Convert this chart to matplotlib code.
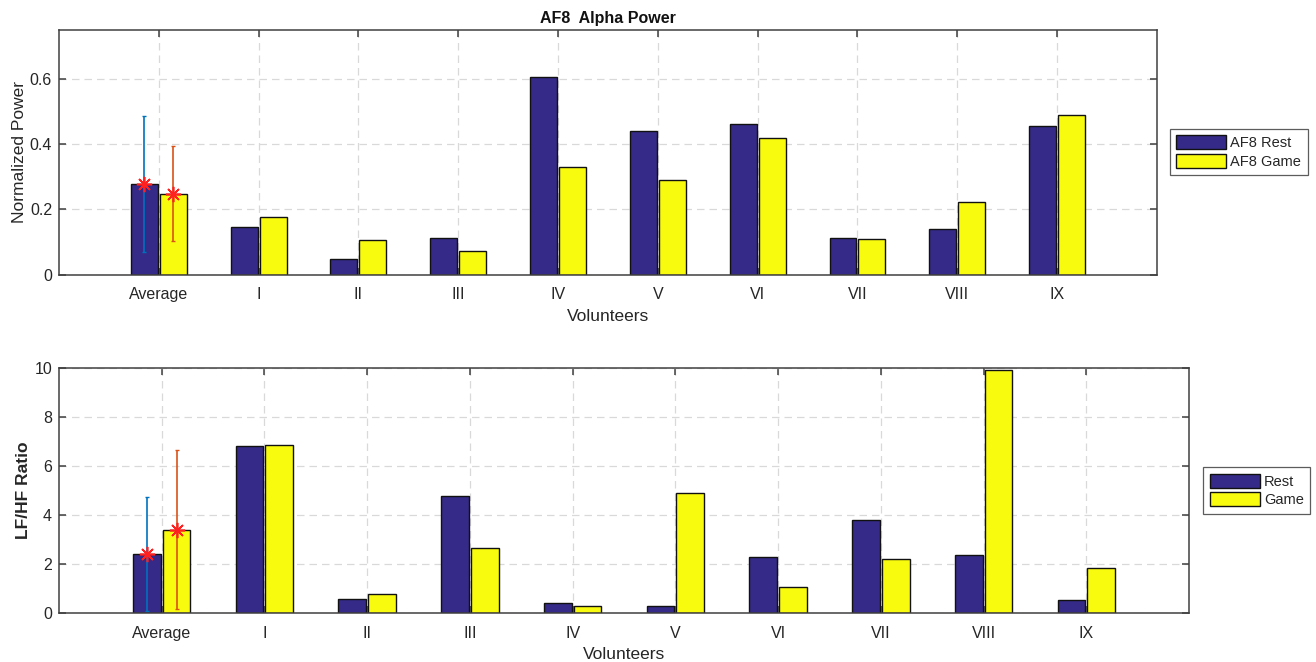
import matplotlib
matplotlib.use("Agg")
import matplotlib.pyplot as plt
import numpy as np

plt.rcParams['font.family'] = ['Liberation Sans', 'DejaVu Sans']

# Volunteer labels (first group is the average over all volunteers)
labels = ["Average", "I", "II", "III", "IV", "V", "VI", "VII", "VIII", "IX"]

# AF8 alpha power (normalized)
alpha_rest = [0.278, 0.146, 0.047, 0.113, 0.605, 0.441, 0.462, 0.113, 0.139, 0.456]
alpha_game = [0.248, 0.175, 0.105, 0.071, 0.330, 0.289, 0.418, 0.109, 0.223, 0.488]
alpha_rest_sd = 0.208
alpha_game_sd = 0.146

# LF/HF ratio
lfhf_rest = [2.42, 6.79, 0.59, 4.77, 0.39, 0.27, 2.28, 3.79, 2.37, 0.54]
lfhf_game = [3.39, 6.85, 0.78, 2.66, 0.29, 4.91, 1.06, 2.22, 9.92, 1.84]
lfhf_rest_sd = 2.32
lfhf_game_sd = 3.24

BLUE = "#352a87"
YELLOW = "#f9fb0e"
ERR_BLUE = "#0072bd"
ERR_ORANGE = "#d95319"
AX_COLOR = "#404040"
TXT_COLOR = "#262626"

fig = plt.figure(figsize=(13.16, 6.62), dpi=100)
ax1 = fig.add_axes([0.0448, 0.5853, 0.8343, 0.3693])
ax2 = fig.add_axes([0.0448, 0.0740, 0.8587, 0.3705])

x = np.arange(1, len(labels) + 1)
off = 0.145
w = 0.27


def draw(ax, rest, game, rest_sd, game_sd, ylim, yticks, yfmt, ylabel,
         names, legend_box, ylabel_weight="normal"):
    ax.set_axisbelow(True)
    b1 = ax.bar(x - off, rest, w, color=BLUE, edgecolor="#111111",
                linewidth=1.0, label=names[0])
    b2 = ax.bar(x + off, game, w, color=YELLOW, edgecolor="#111111",
                linewidth=1.0, label=names[1])
    ax.errorbar([x[0] - off], [rest[0]], yerr=[rest_sd], fmt="none",
                ecolor=ERR_BLUE, elinewidth=1.2, capsize=1.2, capthick=1.0)
    ax.errorbar([x[0] + off], [game[0]], yerr=[game_sd], fmt="none",
                ecolor=ERR_ORANGE, elinewidth=1.2, capsize=1.2, capthick=1.0)
    ax.plot([x[0] - off, x[0] + off], [rest[0], game[0]], linestyle="none",
            marker=(8, 2, 0), markersize=11, markeredgewidth=1.2,
            color="#ff2020", zorder=5)
    ax.set_xlim(0, 11)
    ax.set_ylim(*ylim)
    ax.set_xticks(x)
    ax.set_xticklabels(labels)
    ax.set_yticks(yticks)
    ax.set_yticklabels([yfmt(v) for v in yticks])
    ax.grid(True, linestyle=(0, (6, 4)), color="#d9d9d9", linewidth=0.9)
    ax.tick_params(direction="in", length=5, width=1.1, color=AX_COLOR,
                   labelcolor=TXT_COLOR, labelsize=11.5, top=True, right=True)
    ax.tick_params(axis="x", pad=9)
    ax.tick_params(axis="y", pad=5)
    for s in ax.spines.values():
        s.set_color(AX_COLOR)
        s.set_linewidth(1.1)
    ax.set_xlabel("Volunteers", fontsize=12.5, color=TXT_COLOR, labelpad=5)
    ax.set_ylabel(ylabel, fontsize=12.5, color=TXT_COLOR,
                  fontweight=ylabel_weight, labelpad=2)
    leg = fig.legend(handles=[b1, b2], loc="center", bbox_to_anchor=legend_box,
                     bbox_transform=fig.transFigure, fontsize=10.5,
                     frameon=True, fancybox=False, handlelength=3.4,
                     handleheight=1.1, handletextpad=0.3, borderpad=0.45,
                     labelspacing=0.25, borderaxespad=0)
    leg.get_frame().set_edgecolor("#333333")
    leg.get_frame().set_linewidth(0.9)
    for t in leg.get_texts():
        t.set_color(TXT_COLOR)


draw(ax1, alpha_rest, alpha_game, alpha_rest_sd, alpha_game_sd,
     (0, 0.75), [0, 0.2, 0.4, 0.6],
     lambda v: "0" if v == 0 else f"{v:.1f}", "Normalized Power",
     ("AF8 Rest", "AF8 Game"), (0.8906, 0.7356, 0.1011, 0.0695))
ax1.set_title("AF8  Alpha Power", fontsize=11.5, fontweight="bold",
              color="#111111", pad=5)

draw(ax2, lfhf_rest, lfhf_game, lfhf_rest_sd, lfhf_game_sd,
     (0, 10), [0, 2, 4, 6, 8, 10], lambda v: f"{v:g}", "LF/HF Ratio",
     ("Rest", "Game"), (0.9141, 0.2251, 0.082, 0.068),
     ylabel_weight="semibold")

fig.savefig("out.png", dpi=100, facecolor="white")
